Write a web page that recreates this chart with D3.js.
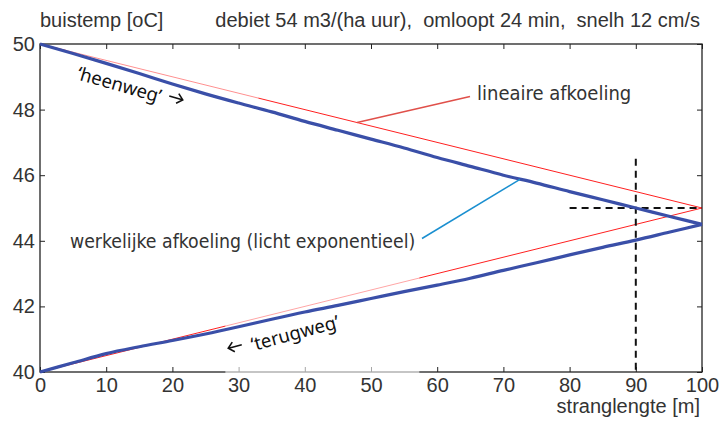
<!DOCTYPE html>
<html>
<head>
<meta charset="utf-8">
<script src="https://cdn.jsdelivr.net/npm/d3@7"></script>
<style>
  body { margin: 0; background: #fff; }
  svg { display: block; }
  .tick text { fill: #333; }
</style>
</head>
<body>
<svg id="chart" width="721" height="421"></svg>
<script>
// afstand langs de streng [m]
const xTicks = [0, 10, 20, 30, 40, 50, 60, 70, 80, 90, 100];
const yTicks = [40, 42, 44, 46, 48, 50];

// lineaire afkoeling
const linX = [0, 100];
const linHeen = [50, 45];
const linTerug = [40, 45];

// werkelijke afkoeling
const curveX = [0, 5, 10, 15, 20, 25, 30, 35, 40, 45, 50, 55, 60, 65, 70, 75, 80, 85, 90, 95, 100];
const heenT = [50, 49.71, 49.41, 49.1, 48.78, 48.48, 48.2, 47.93, 47.64, 47.37, 47.1, 46.83, 46.54, 46.27, 46.0, 45.76, 45.5, 45.25, 45.0, 44.75, 44.5];
const terugT = [40, 40.28, 40.56, 40.77, 40.96, 41.16, 41.38, 41.61, 41.83, 42.03, 42.24, 42.45, 42.65, 42.86, 43.1, 43.33, 43.57, 43.8, 44.02, 44.26, 44.5];

// markering bij 90 m / 45 oC
const markX = 90, markT = 45;

const m = { left: 40, right: 702, top: 44, bottom: 372 };
const svg = d3.select("#chart");
const font = "'Liberation Sans', Arial, sans-serif";
const narrow = "'Liberation Sans Narrow', 'DejaVu Sans Condensed', sans-serif";
const hand = "'Noto Sans', 'Open Sans', sans-serif";

const x = d3.scaleLinear().domain([0, 100]).range([m.left, m.right]);
const y = d3.scaleLinear().domain([40, 50]).range([m.bottom, m.top]);

// assen, ticks naar binnen
const gx = svg.append("g").attr("transform", `translate(0,${m.bottom})`)
  .call(d3.axisBottom(x).tickValues(xTicks).tickSizeInner(-5).tickSizeOuter(0).tickPadding(6));
const gy = svg.append("g").attr("transform", `translate(${m.left},0)`)
  .call(d3.axisLeft(y).tickValues(yTicks).tickSizeInner(-5).tickSizeOuter(0).tickPadding(5));
const gt = svg.append("g").attr("transform", `translate(0,${m.top})`)
  .call(d3.axisTop(x).tickValues(xTicks).tickSizeInner(-5).tickSizeOuter(0).tickFormat(""));
const gr = svg.append("g").attr("transform", `translate(${m.right},0)`)
  .call(d3.axisRight(y).tickValues(yTicks).tickSizeInner(-5).tickSizeOuter(0).tickFormat(""));
[gx, gy, gt, gr].forEach(g => {
  g.select(".domain").remove();
  g.selectAll(".tick line").attr("stroke", "#222");
  g.selectAll(".tick text").style("font-family", font).style("font-size", "20px");
});

svg.append("rect")
  .attr("x", m.left).attr("y", m.top)
  .attr("width", m.right - m.left).attr("height", m.bottom - m.top)
  .attr("fill", "none").attr("stroke", "#222").attr("stroke-width", 1.3);

// lineaire afkoeling
const line = d3.line().x(d => x(d[0])).y(d => y(d[1]));
[linHeen, linTerug].forEach(ts => {
  svg.append("path")
    .attr("d", line(linX.map((v, i) => [v, ts[i]])))
    .attr("fill", "none").attr("stroke", "#ff2020").attr("stroke-width", 1);
});

// gestippelde markering
svg.append("line")
  .attr("x1", x(markX)).attr("x2", x(markX))
  .attr("y1", y(46.5)).attr("y2", m.bottom)
  .attr("stroke", "#111").attr("stroke-width", 2).attr("stroke-dasharray", "7,5");
svg.append("line")
  .attr("x1", x(80)).attr("x2", x(100))
  .attr("y1", y(markT)).attr("y2", y(markT))
  .attr("stroke", "#111").attr("stroke-width", 2).attr("stroke-dasharray", "7,5");

// witte labelvlakken (half doorzichtig, zoals in het origineel)
svg.append("rect").attr("x", x(4)).attr("y", 50).attr("width", x(33) - x(4)).attr("height", 52)
  .attr("fill", "#fff").attr("opacity", 0.5);
svg.append("rect").attr("x", x(28)).attr("y", 272).attr("width", x(57.3) - x(28)).attr("height", 104)
  .attr("fill", "#fff").attr("opacity", 0.6);

// werkelijke afkoeling
const smooth = d3.line().curve(d3.curveMonotoneX).x(d => x(d[0])).y(d => y(d[1]));
[heenT, terugT].forEach(ts => {
  svg.append("path")
    .attr("d", smooth(curveX.map((v, i) => [v, ts[i]])))
    .attr("fill", "none").attr("stroke", "#3a4fa8").attr("stroke-width", 3.2)
    .attr("stroke-linejoin", "round");
});

// aanwijslijnen
svg.append("line").attr("x1", 470).attr("y1", 96.5).attr("x2", x(47.9)).attr("y2", y(50 - 0.05 * 47.9))
  .attr("stroke", "#e0504a").attr("stroke-width", 1.5);
svg.append("line").attr("x1", 422).attr("y1", 238.5).attr("x2", x(72.5)).attr("y2", y(45.87))
  .attr("stroke", "#1a8fd0").attr("stroke-width", 1.5);

// teksten
svg.append("text").attr("x", 40).attr("y", 27).text("buistemp [oC]")
  .style("font-family", font).style("font-size", "20px").attr("fill", "#333");
svg.append("text").attr("x", 700).attr("y", 27).attr("text-anchor", "end")
  .attr("xml:space", "preserve")
  .text("debiet 54 m3/(ha uur),  omloopt 24 min,  snelh 12 cm/s")
  .style("font-family", font).style("font-size", "20px").attr("fill", "#333");
svg.append("text").attr("x", 700).attr("y", 413).attr("text-anchor", "end").text("stranglengte [m]")
  .style("font-family", font).style("font-size", "20px").attr("fill", "#333");

svg.append("text").attr("x", 477).attr("y", 100).text("lineaire afkoeling")
  .style("font-family", narrow).style("font-size", "20px").attr("fill", "#333");
svg.append("text").attr("x", 70).attr("y", 248).text("werkelijke afkoeling (licht exponentieel)")
  .style("font-family", narrow).style("font-size", "19.3px").attr("fill", "#333");

svg.append("text").attr("transform", "translate(76,79) rotate(16)")
  .text("\u2018heenweg\u2019")
  .style("font-family", hand).style("font-size", "18.5px").attr("fill", "#111");
svg.append("text").attr("transform", "translate(253,351) rotate(-15)")
  .text("\u2018terugweg\u2019")
  .style("font-family", hand).style("font-size", "18.5px").attr("fill", "#111");

// pijltjes
function arrow(cx, cy, angle) {
  svg.append("path")
    .attr("transform", `translate(${cx},${cy}) rotate(${angle})`)
    .attr("d", "M-7,0H6.5M1.5,-5L7,0L1.5,5")
    .attr("fill", "none").attr("stroke", "#111").attr("stroke-width", 1.6)
    .attr("stroke-linejoin", "miter");
}
arrow(176, 98, 16);
arrow(235, 346.5, 165);
</script>
</body>
</html>
